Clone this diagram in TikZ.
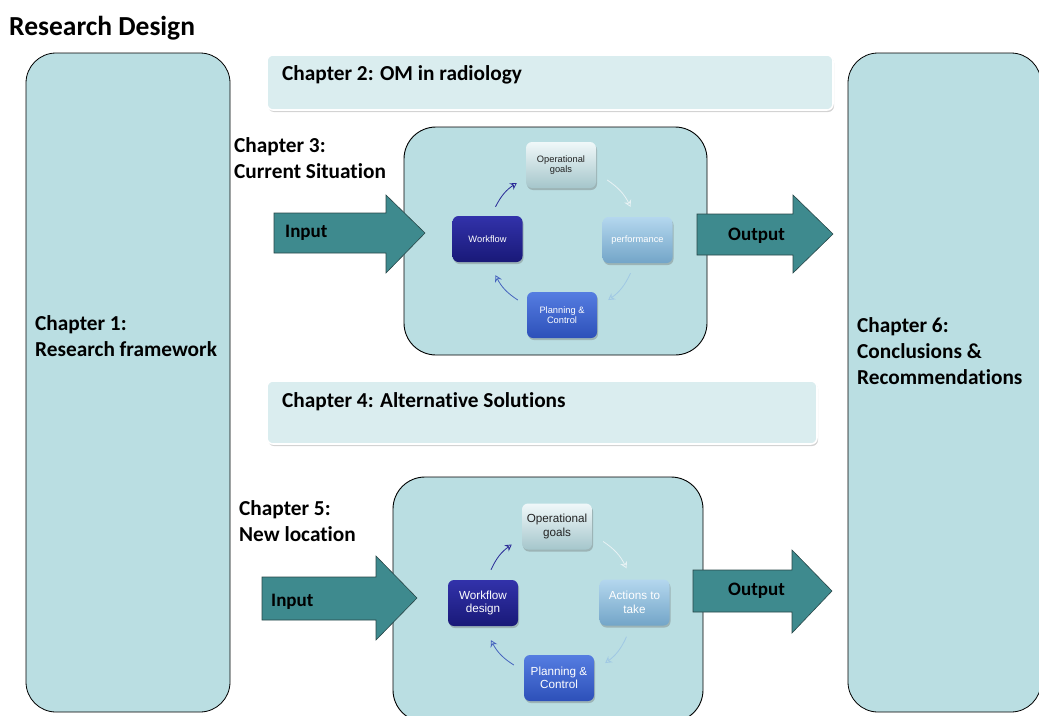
\documentclass[tikz,border=0pt]{standalone}
\usepackage{fontspec}
\setmainfont[Ligatures=NoCommon]{Carlito}
\newfontfamily\arialf{Liberation Sans}
\usetikzlibrary{shadows,arrows.meta}
\definecolor{bigfill}{RGB}{186,222,226}
\definecolor{chapfill}{RGB}{218,237,239}
\definecolor{arrowfill}{RGB}{62,138,142}
\definecolor{arrowline}{RGB}{40,70,72}
\definecolor{ogtop}{RGB}{240,248,249}
\definecolor{ogbot}{RGB}{165,198,203}
\definecolor{pftop}{RGB}{180,215,238}
\definecolor{pfbot}{RGB}{115,165,200}
\definecolor{pltop}{RGB}{85,125,225}
\definecolor{plbot}{RGB}{45,80,185}
\definecolor{wftop}{RGB}{50,50,170}
\definecolor{wfbot}{RGB}{25,25,120}
\definecolor{cwf}{RGB}{40,40,150}
\definecolor{cog}{RGB}{232,242,244}
\definecolor{cpf}{RGB}{160,200,228}
\definecolor{cpl}{RGB}{70,100,190}
\definecolor{ogtext}{RGB}{35,35,35}
\tikzset{
  bigbox/.style={draw=black, line width=0.8pt, fill=bigfill, rounded corners=30pt, inner sep=0pt},
  chapbox/.style={draw=white, line width=1.6pt, fill=chapfill, rounded corners=6pt, inner sep=0pt,
     drop shadow={shadow xshift=1pt, shadow yshift=-2pt, opacity=0.35, fill=gray}},
  cyclebox/.style={draw=black, line width=0.9pt, fill=bigfill, rounded corners=32pt, inner sep=0pt},
  smallbox/.style={rounded corners=6pt, minimum width=70pt, minimum height=46pt, inner sep=1pt, align=center,
     drop shadow={shadow xshift=1pt, shadow yshift=-2pt, opacity=0.35, fill=black!60}},
  ogbox/.style={smallbox, top color=ogtop, bottom color=ogbot, text=ogtext},
  pfbox/.style={smallbox, top color=pftop, bottom color=pfbot, text=white},
  plbox/.style={smallbox, top color=pltop, bottom color=plbot, text=white},
  wfbox/.style={smallbox, top color=wftop, bottom color=wfbot, text=white},
  fatarrow/.style={fill=arrowfill, draw=arrowline, line width=0.6pt},
  lbl/.style={font=\fontsize{21.3}{25.8}\selectfont\bfseries, align=left, inner sep=0pt},
  iolbl/.style={font=\fontsize{19}{22}\selectfont\bfseries, inner sep=0pt},
  cyc/.style={line width=0.8pt, -{Stealth[open, length=6.5pt, width=7.5pt]}},
  smallA/.style={font=\arialf\fontsize{9.3}{10.5}\selectfont},
  smallB/.style={font=\arialf\fontsize{11.7}{13.5}\selectfont}
}
\begin{document}
\begin{tikzpicture}[x=1pt,y=-1pt]
\useasboundingbox (0,0) rectangle (1039,715);
\begin{scope}
\clip (0,0) rectangle (1039,715);
% title
\node[anchor=west, inner sep=0pt, font=\fontsize{27.5}{32}\selectfont\bfseries] (title) at (9,28) {Research Design};
% big side boxes
\node[bigbox, minimum width=204pt, minimum height=659pt] (ch1box) at (128,382.5) {};
\node[bigbox, minimum width=193pt, minimum height=659pt] (ch6box) at (944.5,382.5) {};
\node[lbl, anchor=west] (ch1) at (35,336) {Chapter 1:\\Research framework};
\node[lbl, anchor=west] (ch6) at (857,351) {Chapter 6:\\Conclusions \&\\Recommendations};
% chapter bars
\node[chapbox, minimum width=566pt, minimum height=55pt] (ch2box) at (550,82.5) {};
\node[lbl, anchor=west] (ch2) at (282,75) {Chapter 2: OM in radiology};
\node[chapbox, minimum width=550pt, minimum height=63pt] (ch4box) at (542,412.5) {};
\node[lbl, anchor=west] (ch4) at (282,402) {Chapter 4: Alternative Solutions};
% chapter 3 / 5 labels
\node[lbl, anchor=west] (ch3) at (234,158) {Chapter 3:\\Current Situation};
\node[lbl, anchor=west] (ch5) at (239,521) {Chapter 5:\\New location};
% cycle boxes
\node[cyclebox, minimum width=303pt, minimum height=228pt] (cycA) at (555.5,241) {};
\node[cyclebox, minimum width=310pt, minimum height=245pt] (cycB) at (548,599.5) {};
% upper cycle
\node[ogbox, smallA] (ogA) at (561,165) {Operational\\goals};
\node[pfbox, smallA] (pfA) at (637.5,240) {performance};
\node[plbox, smallA] (plA) at (562,315) {Planning \&\\Control};
\node[wfbox, smallA] (wfA) at (487.5,239) {Workflow};
\draw[cyc, cwf] ([shift={(8,-9)}]wfA.north) to[bend left=15] ([shift={(-9,18)}]ogA.west);
\draw[cyc, cog] ([shift={(11,15)}]ogA.east) to[bend left=15] ([shift={(-7,-10)}]pfA.north);
\draw[cyc, cpf] ([shift={(-7,10)}]pfA.south) to[bend left=15] ([shift={(11,-15)}]plA.east);
\draw[cyc, cpl] ([shift={(-9,-15)}]plA.west) to[bend left=15] ([shift={(8,13)}]wfA.south);
% lower cycle
\node[ogbox, smallB] (ogB) at (557,526.5) {Operational\\goals};
\node[pfbox, smallB] (pfB) at (634.5,602.5) {Actions to\\take};
\node[plbox, smallB] (plB) at (559,678) {Planning \&\\Control};
\node[wfbox, smallB] (wfB) at (483,603) {Workflow\\design};
\draw[cyc, cwf] ([shift={(8,-10)}]wfB.north) to[bend left=15] ([shift={(-10,18)}]ogB.west);
\draw[cyc, cog] ([shift={(11,15)}]ogB.east) to[bend left=15] ([shift={(-8,-11)}]pfB.north);
\draw[cyc, cpf] ([shift={(-8,11)}]pfB.south) to[bend left=15] ([shift={(11,-15)}]plB.east);
\draw[cyc, cpl] ([shift={(-10,-13)}]plB.west) to[bend left=15] ([shift={(8,14)}]wfB.south);
% fat arrows
\draw[fatarrow] (274,213) -- (386,213) -- (386,195) -- (425,233) -- (386,273) -- (386,253) -- (274,253) -- cycle;
\node[iolbl, anchor=west] (inA) at (285,233) {Input};
\draw[fatarrow] (697,214) -- (793,214) -- (793,195) -- (833,234) -- (793,273) -- (793,255) -- (697,255) -- cycle;
\node[iolbl, anchor=west] (outA) at (728,236) {Output};
\draw[fatarrow] (262,577) -- (376,577) -- (376,556) -- (417,598) -- (376,640) -- (376,620) -- (262,620) -- cycle;
\node[iolbl, anchor=west] (inB) at (271,602) {Input};
\draw[fatarrow] (693,570) -- (792,570) -- (792,550) -- (832,591) -- (792,633) -- (792,612) -- (693,612) -- cycle;
\node[iolbl, anchor=west] (outB) at (728,591) {Output};
\end{scope}
\end{tikzpicture}
\end{document}
